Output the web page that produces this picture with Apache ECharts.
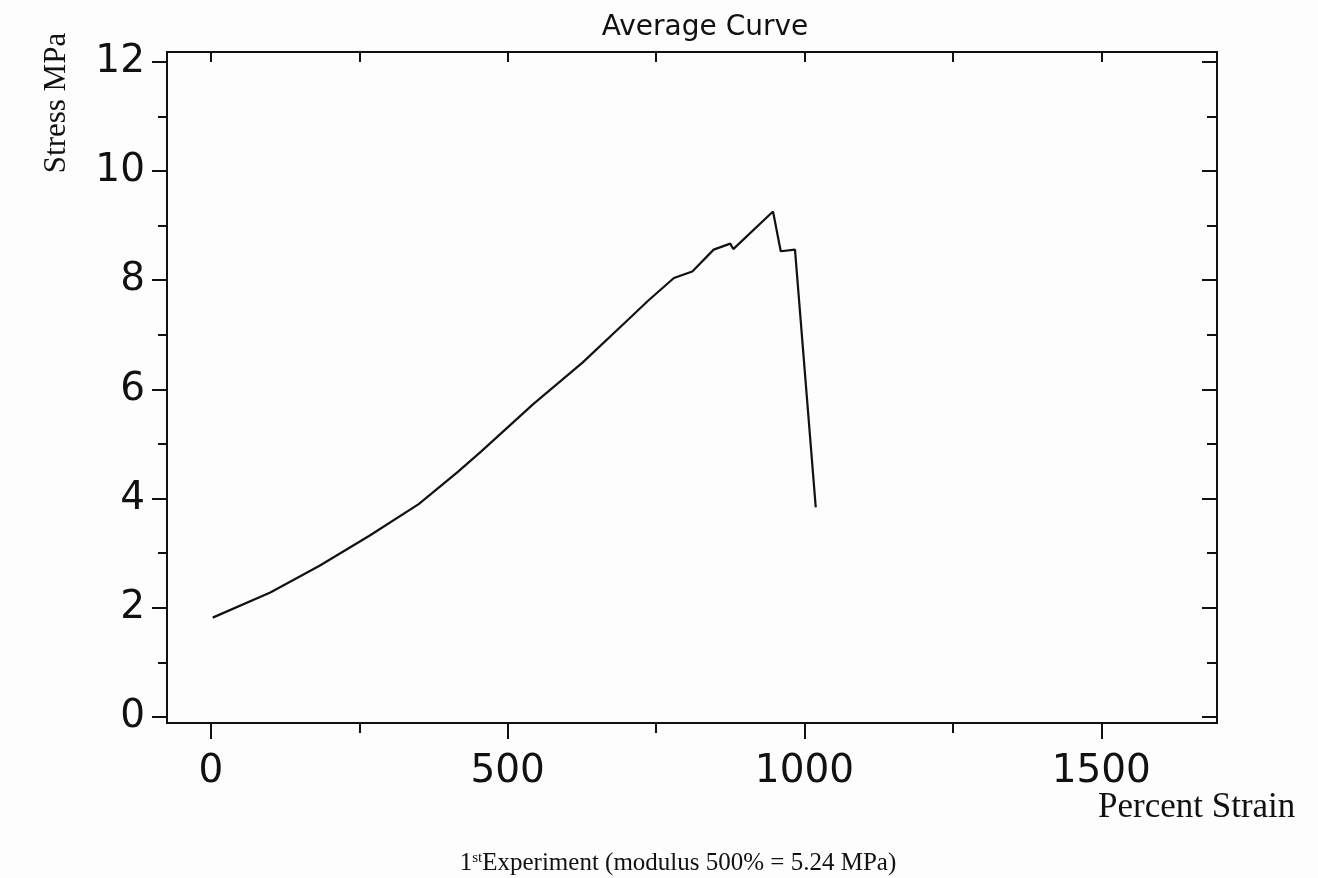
<!DOCTYPE html>
<html>
<head>
<meta charset="utf-8">
<script src="https://cdn.jsdelivr.net/npm/echarts@6/dist/echarts.min.js"></script>
<style>
html,body{margin:0;padding:0;background:#fdfdfd;}
#c{width:1318px;height:878px;}
</style>
</head>
<body>
<div id="c"></div>
<script>
// Data
const strain = [3, 100, 183, 267, 350, 416, 455, 543, 626, 709, 736, 780, 811, 847, 875, 880, 947, 960, 984, 1019];
const stress = [1.82, 2.28, 2.77, 3.32, 3.90, 4.49, 4.86, 5.73, 6.49, 7.34, 7.62, 8.04, 8.16, 8.56, 8.67, 8.57, 9.26, 8.53, 8.56, 3.84];
const xMajorTicks = [0, 500, 1000, 1500];
const xMinorTicks = [250, 750, 1250];
const xTopTicks = [0, 250, 500, 750, 1000, 1250, 1500];
const yMajorTicks = [0, 2, 4, 6, 8, 10, 12];
const yMinorTicks = [1, 3, 5, 7, 9, 11];
const titleText = 'Average Curve';
const yName = 'Stress MPa';
const xName = 'Percent Strain';
const captionPre = '1';
const captionSup = 'st';
const captionPost = 'Experiment (modulus 500% = 5.24 MPa)';

const points = strain.map((x, i) => [x, stress[i]]);
const ink = '#111';
const xMin = -74, xMax = 1695, yMin = -0.11, yMax = 12.18;
const axisLine = { show: true, onZero: false, lineStyle: { color: ink, width: 2 } };

function xAx(pos, ticks, len, inside, labels) {
  return {
    type: 'value', position: pos, min: xMin, max: xMax,
    axisLine: axisLine,
    axisTick: { show: true, customValues: ticks, length: len, inside: inside, lineStyle: { color: ink, width: 2 } },
    axisLabel: labels ? { show: true, customValues: labels, formatter: v => String(v), fontFamily: 'DejaVu Sans', fontSize: 39, color: ink, margin: 29 } : { show: false },
    splitLine: { show: false }
  };
}
function yAx(pos, ticks, len, inside, labels) {
  return {
    type: 'value', position: pos, min: yMin, max: yMax,
    axisLine: axisLine,
    axisTick: { show: true, customValues: ticks, length: len, inside: inside, lineStyle: { color: ink, width: 2 } },
    axisLabel: labels ? { show: true, customValues: labels, formatter: v => String(v), fontFamily: 'DejaVu Sans', fontSize: 39, color: ink, margin: 22 } : { show: false },
    splitLine: { show: false }
  };
}

const chart = echarts.init(document.getElementById('c'), null, { renderer: 'canvas' });
chart.setOption({
  backgroundColor: '#fdfdfd',
  animation: false,
  grid: { left: 167, top: 52, width: 1050, height: 671, containLabel: false, outerBoundsMode: 'none' },
  xAxis: [
    xAx('bottom', xMajorTicks, 16, false, xMajorTicks),
    xAx('bottom', xMinorTicks, 10, false, null),
    xAx('top', xTopTicks, 10, true, null)
  ],
  yAxis: [
    yAx('left', yMajorTicks, 15, false, yMajorTicks),
    yAx('left', yMinorTicks, 9, false, null),
    yAx('right', yMajorTicks, 15, true, null),
    yAx('right', yMinorTicks, 10, true, null)
  ],
  series: [{
    type: 'line', xAxisIndex: 0, yAxisIndex: 0, data: points,
    showSymbol: false, smooth: false,
    lineStyle: { color: ink, width: 2.2 }
  }],
  graphic: [
    { type: 'text', x: 705, y: 28, style: { text: titleText, font: '28px "DejaVu Sans"', fill: ink, textAlign: 'center', textVerticalAlign: 'middle' } },
    { type: 'text', x: 57, y: 103, rotation: Math.PI / 2, style: { text: yName, font: '31px "Liberation Serif"', fill: ink, textAlign: 'center', textVerticalAlign: 'middle' } },
    { type: 'text', x: 1098, y: 808, style: { text: xName, font: '35px "Liberation Serif"', fill: ink, textAlign: 'left', textVerticalAlign: 'middle' } },
    { type: 'text', x: 678, y: 863, style: {
        text: '{a|' + captionPre + '}{s|' + captionSup + '}{a|' + captionPost + '}',
        textAlign: 'center', textVerticalAlign: 'middle',
        rich: {
          a: { fontFamily: 'Liberation Serif', fontSize: 25, fill: ink, color: ink },
          s: { fontFamily: 'Liberation Serif', fontSize: 15, fill: ink, color: ink, verticalAlign: 'top', padding: [0, 0, 9, 0] }
        }
    } }
  ]
});
</script>
</body>
</html>
